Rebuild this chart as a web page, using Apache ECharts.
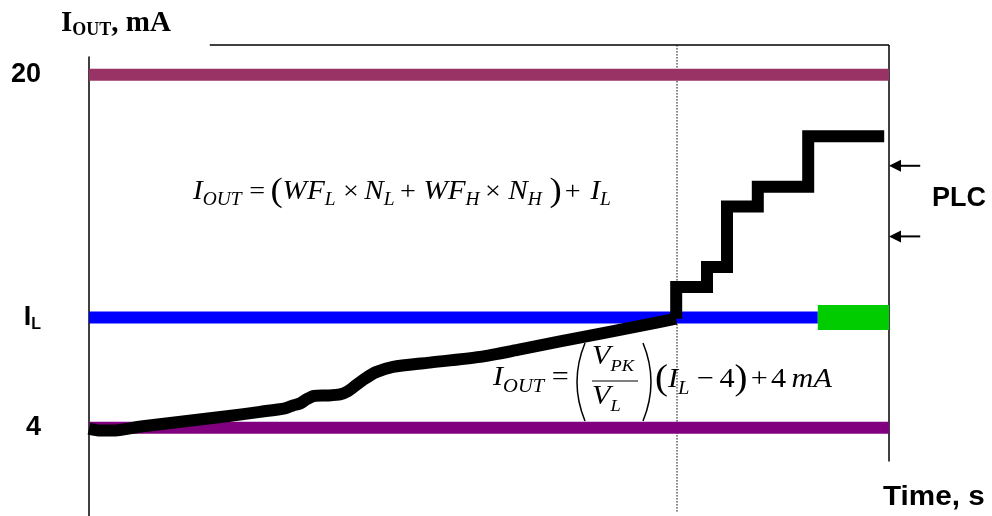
<!DOCTYPE html>
<html>
<head>
<meta charset="utf-8">
<script src="https://cdn.jsdelivr.net/npm/echarts@6/dist/echarts.min.js"></script>
<style>
  html, body { margin: 0; background: #fff; }
  #chart { width: 992px; height: 516px; }
</style>
</head>
<body>
<div id="chart"></div>
<script>
// time runs 0..100 (arbitrary units), current in mA
const tEnd = 100;
const tAxisMax = 105;    // room for the PLC arrows
const tTopLine = 15.1;   // upper frame line starts here
const tCross = 73.5;     // ramp reaches I_L
const tPlc = 91.1;       // PLC hold region
const iMax = 20, iMin = 4, iL = 9;
const iFrameTop = 21.34, iFrameBottom = 2.47, iDotBottom = 0.18;

const yTicks = [4, 9, 20];
const yTickLabels = ["4", "{b|I}{s|L}", "20"];

// analog ramp (V_PK / V_L)
const rampT = [0, 1.38, 2.88, 6.75, 12.0, 17.25, 21.38, 24.5, 25.5, 26.38, 27.25, 28.13, 29.75, 31.38,
  32.38, 33.38, 34.38, 35.88, 38.0, 42.25, 48.88, 53.88, 58.88, 64.75, 68.88, 73.38];
const rampI = [3.96, 3.87, 3.87, 4.07, 4.29, 4.52, 4.72, 4.88, 5.01, 5.10, 5.30, 5.44, 5.46, 5.51,
  5.66, 5.93, 6.20, 6.52, 6.76, 6.94, 7.21, 7.55, 7.91, 8.32, 8.62, 8.94];

// digital steps above I_L
const stepT = [73.4, 73.4, 77.25, 77.25, 79.75, 79.75, 83.6, 83.6, 89.9, 89.9, 99.4];
const stepI = [8.94, 10.38, 10.38, 11.28, 11.28, 14.02, 14.02, 14.92, 14.92, 17.21, 17.21];

const plcArrowI = [15.87, 12.67];
const arrowTip = 100.75, arrowTail = 103.9;

const chart = echarts.init(document.getElementById("chart"));

function seg(pts, color, width, extra) {
  return Object.assign({
    type: "line",
    data: pts,
    symbol: "none",
    clip: false,
    silent: true,
    animation: false,
    lineStyle: { color: color, width: width, cap: "butt" },
  }, extra || {});
}

const serif = "Liberation Serif";
const sans = "Liberation Sans";

const series = [
  // frame
  seg([[tTopLine, iFrameTop], [tEnd, iFrameTop]], "#000", 1.5),
  seg([[tEnd, iFrameTop], [tEnd, iFrameBottom]], "#000", 1.5),
  seg([[tCross, iFrameTop], [tCross, iDotBottom]], "#000", 1, {
    lineStyle: { color: "#000", width: 1, type: [1.5, 1.5] },
  }),
  // levels
  seg([[0, iMax], [tEnd, iMax]], "#993366", 12),
  seg([[0, iL], [tPlc, iL]], "#0000ff", 12),
  seg([[tPlc, iL], [tEnd, iL]], "#00cc00", 25),
  seg([[0, iMin], [tEnd, iMin]], "#800080", 12),
  // output current
  seg(rampT.map((t, i) => [t, rampI[i]]), "#000", 12, {
    smooth: 0.25,
    lineStyle: { color: "#000", width: 12, cap: "butt", join: "round" },
  }),
  seg(stepT.map((t, i) => [t, stepI[i]]), "#000", 12, {
    lineStyle: { color: "#000", width: 12, cap: "butt", join: "miter" },
  }),
];

plcArrowI.forEach((v) => {
  series.push(seg([
    { value: [arrowTail, v], symbol: "none" },
    { value: [arrowTip, v], symbol: "triangle", symbolSize: [12, 12], symbolRotate: 90 },
  ], "#000", 2, { showSymbol: true, itemStyle: { color: "#000" } }));
});

// rich text styles for the two formulas
function sp(w) { return { width: w, fontSize: 10, lineHeight: 10 }; }
const fm = { fontFamily: serif, fontStyle: "italic", fontSize: 27, lineHeight: 34, fill: "#000" };
const fo = { fontFamily: serif, fontSize: 26, lineHeight: 34, fill: "#000" };
const fp = { fontFamily: serif, fontSize: 34, lineHeight: 34, fill: "#000" };
const fs = { fontFamily: serif, fontStyle: "italic", fontSize: 18, lineHeight: 15, verticalAlign: "bottom", fill: "#000" };

const gm = { fontFamily: serif, fontStyle: "italic", fontSize: 28, lineHeight: 36, fill: "#000" };
const go = { fontFamily: serif, fontSize: 28, lineHeight: 36, fill: "#000" };
const gp = { fontFamily: serif, fontSize: 36, lineHeight: 36, fill: "#000" };
const gs = { fontFamily: serif, fontStyle: "italic", fontSize: 19, lineHeight: 14, verticalAlign: "bottom", fill: "#000" };
const gk = { fontFamily: serif, fontStyle: "italic", fontSize: 17, lineHeight: 9, verticalAlign: "bottom", fill: "#000" };

const gaps = { a: sp(3), b: sp(5), c: sp(7), d: sp(9) };
const stretch = 1.08; // the source picture is a little wider than tall

chart.setOption({
  backgroundColor: "#fff",
  animation: false,
  grid: { left: 89, width: 800 * tAxisMax / tEnd, top: 57, height: 463 },
  xAxis: { type: "value", min: 0, max: tAxisMax, show: false },
  yAxis: {
    type: "value",
    min: 0,
    max: 20.8,
    splitLine: { show: false },
    axisTick: { show: false },
    axisLine: { show: true, lineStyle: { color: "#000", width: 1.5 } },
    axisLabel: {
      customValues: yTicks,
      formatter: (v) => yTickLabels[yTicks.indexOf(v)],
      align: "right",
      margin: 48,
      color: "#000",
      fontFamily: sans,
      fontWeight: "bold",
      fontSize: 27,
      rich: {
        b: { fontFamily: sans, fontWeight: "bold", fontSize: 27, lineHeight: 30, color: "#000" },
        s: { fontFamily: sans, fontWeight: "bold", fontSize: 16, lineHeight: 12, verticalAlign: "bottom", color: "#000" },
      },
    },
  },
  graphic: [
    {
      type: "text", left: 61, top: 9,
      style: {
        text: "{b|I}{s|OUT}{b|, mA}",
        rich: {
          b: { fontFamily: serif, fontWeight: "bold", fontSize: 29, lineHeight: 32, fill: "#000" },
          s: { fontFamily: serif, fontWeight: "bold", fontSize: 18, lineHeight: 22, verticalAlign: "bottom", fill: "#000" },
        },
      },
    },
    {
      type: "text", x: 883, y: 497, scaleX: 1.06,
      style: { text: "Time, s", font: "bold 28px " + sans, fill: "#000", verticalAlign: "middle" },
    },
    {
      type: "text", x: 932, y: 199,
      style: { text: "PLC", font: "bold 27px " + sans, fill: "#000", verticalAlign: "middle" },
    },
    {
      type: "text", x: 193, y: 192, scaleX: stretch,
      style: {
        text: "{m|I}{s|OUT}{c| }{o|=}{b| }{p|(}{m|WF}{s|L}{c| }{o|×}{b| }{m|N}{s|L}{b| }{o|+}{c| }" +
          "{m|WF}{s|H}{b| }{o|×}{c| }{m|N}{s|H}{c| }{p|)}{a| }{o|+}{d| }{m|I}{s|L}",
        rich: Object.assign({ m: fm, o: fo, p: fp, s: fs }, gaps),
        verticalAlign: "middle",
      },
    },
    {
      type: "text", x: 493, y: 378, scaleX: stretch,
      style: { text: "{m|I}{s|OUT}{c| }{o|=}", rich: Object.assign({ m: gm, o: go, s: gs }, gaps), verticalAlign: "middle" },
    },
    {
      type: "text", x: 592, y: 357, scaleX: stretch,
      style: { text: "{m|V}{k|PK}", rich: { m: gm, k: gk }, verticalAlign: "middle" },
    },
    {
      type: "text", x: 592, y: 397, scaleX: stretch,
      style: { text: "{m|V}{k|L}", rich: { m: gm, k: gk }, verticalAlign: "middle" },
    },
    {
      type: "line",
      shape: { x1: 592, y1: 381, x2: 638, y2: 381 },
      style: { stroke: "#000", lineWidth: 1.2 },
    },
    {
      type: "bezierCurve",
      shape: { x1: 585, y1: 343, cpx1: 569, cpy1: 382, x2: 585, y2: 421 },
      style: { stroke: "#000", lineWidth: 1.5, fill: null },
    },
    {
      type: "bezierCurve",
      shape: { x1: 643, y1: 343, cpx1: 659, cpy1: 382, x2: 643, y2: 421 },
      style: { stroke: "#000", lineWidth: 1.5, fill: null },
    },
    {
      type: "text", x: 655, y: 380, scaleX: stretch,
      style: {
        text: "{p|(}{m|I}{s|L}{c| }{o|−}{b| }{o|4}{p|)}{a| }{o|+}{a| }{o|4}{b| }{m|mA}",
        rich: Object.assign({ m: gm, o: go, p: gp, s: gs }, gaps),
        verticalAlign: "middle",
      },
    },
  ],
  series: series,
});
</script>
</body>
</html>
